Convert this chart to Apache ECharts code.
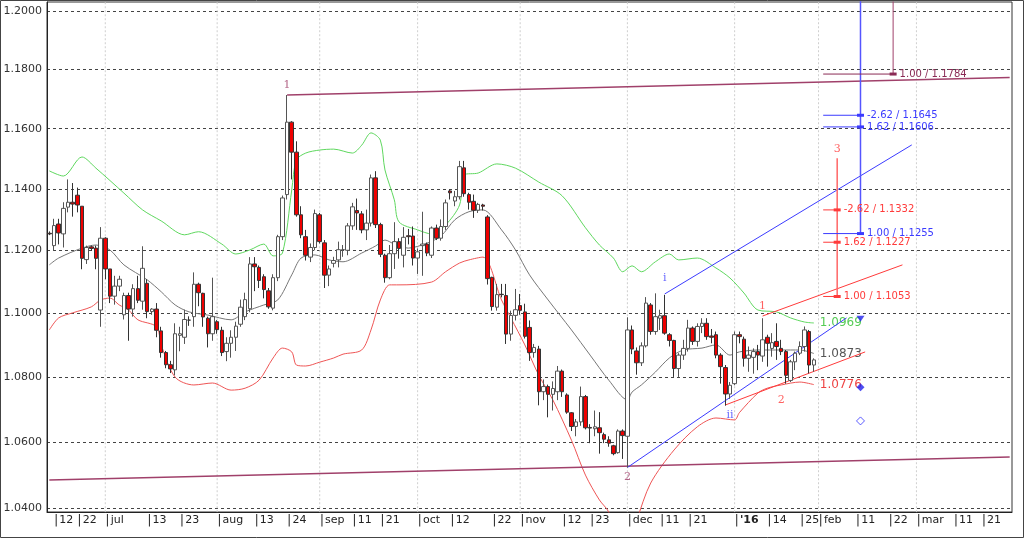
<!DOCTYPE html>
<html lang="en">
<head>
    <meta charset="UTF-8" />
    <title>EURUSD daily</title>
    <script src="https://cdn.jsdelivr.net/npm/echarts@6/dist/echarts.min.js"></script>
    <style>html,body{margin:0;padding:0;background:#fff}</style>
</head>
<body>
<div id="main" style="width:1024px;height:538px"></div>
<script>
// daily candles: open / close / high / low
var opens = [1.1256,1.1216,1.1286,1.1254,1.1341,1.1357,1.1380,1.1344,1.1171,1.1212,1.1208,1.1010,1.1240,1.1141,1.1054,1.1086,1.0995,1.1056,1.1013,1.1078,1.1038,1.1095,1.1005,1.1013,1.0944,1.0876,1.0838,1.0822,1.0930,1.0924,1.0978,1.0989,1.1092,1.1063,1.0984,1.0935,1.0973,1.0946,1.0879,1.0905,1.0924,1.0965,1.0989,
 1.1014,1.1157,1.1146,1.1116,1.1071,1.1016,1.1113,1.1245,1.1382,1.1622,1.1522,1.1316,1.1245,1.1179,1.1210,1.1316,1.1225,1.1121,1.1159,1.1170,1.1203,1.1201,1.1280,1.1330,1.1319,1.1267,1.1289,1.1437,1.1284,1.1185,1.1113,1.1190,1.1229,1.1185,1.1248,1.1247,1.1176,1.1216,1.1221,1.1185,1.1273,1.1240,1.1278,1.1394,1.1361,1.1375,1.1470,1.1382,1.1360,1.1331,1.1348,
 1.1309,1.1114,1.1019,1.1060,1.1056,1.0934,1.0993,1.1024,1.1004,1.0955,1.0876,1.0887,1.0754,1.0770,1.0746,1.0754,1.0818,1.0744,1.0689,1.0647,1.0661,1.0739,1.0644,1.0640,1.0643,1.0622,1.0606,1.0588,1.0567,1.0633,
 1.0617,1.0947,1.0881,1.0844,1.0897,1.1026,1.0942,1.0984,1.0992,1.0932,1.0914,1.0826,1.0868,1.0889,1.0953,1.0911,1.0958,1.0968,1.0928,1.0932,1.0868,1.0829,1.0747,1.0779,1.0932,1.0918,1.0858,1.0861,1.0879,1.0865,1.0924,1.0889,1.0911,1.0889,1.0879,1.0789,1.0847,1.0874,1.0895,1.0942,1.0837];
var closes = [1.1254,1.1281,1.1257,1.1337,1.1357,1.1351,1.1348,1.1175,1.1210,1.1207,1.1175,1.1240,1.1141,1.1054,1.1086,1.1108,1.1056,1.1013,1.1078,1.1041,1.1143,1.1005,1.1013,1.0946,1.0876,1.0838,1.0825,1.0935,1.0935,1.0980,1.0978,1.1092,1.1065,1.0988,1.0935,1.0989,1.0948,1.0876,1.0905,1.0924,1.0959,1.1019,1.1043,
 1.1157,1.1148,1.1104,1.1075,1.1020,1.1113,1.1245,1.1371,1.1622,1.1522,1.1316,1.1251,1.1185,1.1210,1.1320,1.1229,1.1121,1.1141,1.1168,1.1203,1.1203,1.1280,1.1342,1.1322,1.1267,1.1289,1.1437,1.1284,1.1188,1.1113,1.1190,1.1229,1.1207,1.1243,1.1245,1.1176,1.1196,1.1221,1.1192,1.1273,1.1240,1.1278,1.1355,1.1388,1.1375,1.1474,1.1385,1.1357,1.1331,1.1350,1.1344,
 1.1110,1.1021,1.1059,1.1059,1.0934,1.0993,1.1011,1.1009,1.0927,1.0876,1.0892,1.0754,1.0770,1.0746,1.0764,1.0818,1.0754,1.0691,1.0647,1.0661,1.0739,1.0643,1.0642,1.0646,1.0628,1.0608,1.0596,1.0564,1.0633,1.0619,
 1.0947,1.0887,1.0844,1.0897,1.1032,1.0942,1.0989,1.0992,1.0937,1.0914,1.0826,1.0868,1.0889,1.0953,1.0911,1.0958,1.0968,1.0926,1.0924,1.0868,1.0832,1.0747,1.0774,1.0932,1.0926,1.0858,1.0868,1.0879,1.0868,1.0916,1.0905,1.0907,1.0895,1.0879,1.0805,1.0847,1.0874,1.0895,1.0947,1.0837,1.0853];
var highs = [1.1262,1.1303,1.1303,1.1357,1.1432,1.1420,1.1405,1.1344,1.1216,1.1216,1.1216,1.1276,1.1243,1.1141,1.1119,1.1119,1.1065,1.1065,1.1092,1.1119,1.1214,1.1108,1.1016,1.1032,1.0957,1.0881,1.0850,1.0968,1.0957,1.1011,1.0990,1.1130,1.1097,1.1065,1.0989,1.1113,1.0978,1.0957,1.0924,1.0946,1.0973,1.1043,1.1065,
 1.1179,1.1179,1.1152,1.1124,1.1080,1.1124,1.1251,1.1379,1.1713,1.1625,1.1558,1.1344,1.1267,1.1223,1.1333,1.1322,1.1234,1.1152,1.1180,1.1229,1.1218,1.1289,1.1355,1.1369,1.1328,1.1333,1.1448,1.1459,1.1290,1.1190,1.1218,1.1292,1.1240,1.1276,1.1270,1.1278,1.1207,1.1326,1.1226,1.1278,1.1284,1.1301,1.1366,1.1399,1.1394,1.1493,1.1493,1.1388,1.1382,1.1355,1.1352,
 1.1315,1.1116,1.1093,1.1093,1.1093,1.1008,1.1077,1.1061,1.1030,1.0977,1.0903,1.0897,1.0792,1.0776,1.0786,1.0834,1.0823,1.0749,1.0691,1.0670,1.0770,1.0744,1.0654,1.0696,1.0691,1.0628,1.0617,1.0591,1.0638,1.0638,
 1.0987,1.0961,1.0892,1.0908,1.1051,1.1032,1.1063,1.1011,1.1058,1.0937,1.0916,1.0874,1.0916,1.0979,1.0958,1.0968,1.0984,1.0984,1.0950,1.0942,1.0874,1.0837,1.0784,1.0942,1.0942,1.0926,1.0895,1.0889,1.0900,1.0984,1.0932,1.0937,1.0968,1.0916,1.0884,1.0853,1.0879,1.0911,1.0958,1.0947,1.0858];
var lows = [1.1250,1.1200,1.1220,1.1210,1.1324,1.1310,1.1324,1.1140,1.1157,1.1200,1.1140,1.0957,1.1108,1.1032,1.1027,1.1070,1.0980,1.0913,1.0989,1.1032,1.1011,1.0984,1.0995,1.0924,1.0860,1.0827,1.0812,1.0805,1.0880,1.0903,1.0960,1.0957,1.1022,1.0957,1.0892,1.0913,1.0935,1.0865,1.0849,1.0860,1.0881,1.0957,1.0978,
 1.1003,1.1070,1.1080,1.1047,1.1014,1.1009,1.1102,1.1234,1.1366,1.1432,1.1310,1.1240,1.1168,1.1163,1.1201,1.1223,1.1080,1.1086,1.1146,1.1146,1.1180,1.1185,1.1267,1.1267,1.1256,1.1234,1.1278,1.1273,1.1179,1.1097,1.1108,1.1141,1.1174,1.1146,1.1220,1.1152,1.1125,1.1119,1.1182,1.1176,1.1234,1.1232,1.1267,1.1366,1.1344,1.1366,1.1375,1.1333,1.1306,1.1322,1.1330,
 1.1091,1.1008,1.1008,1.1050,1.0903,1.0913,1.0977,1.0995,1.0920,1.0850,1.0860,1.0712,1.0728,1.0675,1.0696,1.0728,1.0738,1.0686,1.0633,1.0617,1.0649,1.0638,1.0596,1.0617,1.0564,1.0596,1.0585,1.0559,1.0564,1.0548,
 1.0522,1.0871,1.0807,1.0834,1.0892,1.0932,1.0932,1.0947,1.0932,1.0895,1.0800,1.0800,1.0853,1.0879,1.0900,1.0895,1.0937,1.0916,1.0905,1.0858,1.0779,1.0711,1.0732,1.0774,1.0905,1.0832,1.0816,1.0810,1.0821,1.0847,1.0832,1.0863,1.0853,1.0868,1.0779,1.0784,1.0821,1.0868,1.0879,1.0811,1.0816];

// bollinger bands: [bar index, value]
var upperBand = [[0,1.1460],[3,1.1443],[7,1.1506],[10,1.1469],[16,1.1387],[20,1.1332],[24,1.1296],[29,1.1251],[32,1.1261],[37,1.1221],[40,1.1189],[43,1.1202],[46,1.1221],[48,1.1183],[50,1.1192],[52,1.1397],[53,1.1496],[55,1.1519],[58,1.1529],[61,1.1532],[65,1.1519],[67,1.1545],[69,1.1586],[71,1.1562],[72,1.1463],[74,1.1365],[75,1.1293],[79,1.1267],[82,1.1254],[85,1.1283],[88,1.1348],[89,1.1447],[92,1.1453],[96,1.1483],[100,1.1469],[105,1.1423],[110,1.1378],[115,1.1274],[118,1.1218],[121,1.1176],[123,1.1132],[125,1.1151],[127,1.1132],[130,1.1164],[133,1.1189],[135,1.1170],[139,1.1176],[143,1.1144],[146,1.1112],[149,1.1064],[152,1.1010],[156,1.1004],[159,1.0985],[162,1.0972],[164,1.0969]];
var midBand = [[0,1.1154],[2,1.1176],[7,1.1208],[10,1.1218],[13,1.1202],[16,1.1154],[21,1.1106],[24,1.1068],[27,1.1026],[30,1.1004],[34,1.0994],[39,1.0979],[42,1.1004],[46,1.1026],[49,1.1042],[52,1.1122],[54,1.1176],[57,1.1186],[60,1.1170],[63,1.1164],[67,1.1192],[70,1.1215],[72,1.1234],[74,1.1221],[77,1.1208],[81,1.1224],[84,1.1247],[87,1.1300],[90,1.1326],[93,1.1332],[97,1.1267],[100,1.1202],[103,1.1122],[107,1.1042],[112,1.0947],[116,1.0868],[120,1.0790],[124,1.0729],[125,1.0753],[127,1.0775],[130,1.0815],[133,1.0859],[136,1.0884],[140,1.0890],[143,1.0900],[146,1.0868],[148,1.0878],[152,1.0884],[157,1.0884],[161,1.0884],[164,1.0873]];
var lowerBand = [[0,1.0947],[2,1.0985],[5,1.1001],[9,1.1020],[11,1.1042],[13,1.1048],[15,1.1026],[17,1.1010],[19,1.0979],[23,1.0957],[24,1.0900],[27,1.0799],[31,1.0775],[35,1.0781],[39,1.0759],[42,1.0765],[45,1.0790],[48,1.0859],[50,1.0890],[52,1.0878],[53,1.0837],[55,1.0834],[58,1.0846],[61,1.0859],[63,1.0871],[67,1.0884],[69,1.0947],[71,1.1042],[73,1.1090],[75,1.1090],[82,1.1099],[85,1.1132],[88,1.1160],[90,1.1170],[93,1.1179],[97,1.1042],[99,1.0985],[102,1.0900],[105,1.0805],[108,1.0729],[112,1.0605],[115,1.0499],[118,1.0424],[120,1.0388],[121,1.0334],[123,1.0250],[126,1.0364],[129,1.0475],[134,1.0575],[139,1.0646],[143,1.0673],[147,1.0667],[148,1.0689],[152,1.0750],[154,1.0765],[157,1.0775],[161,1.0784],[164,1.0776]];

// drawn channel lines
var purpleTop = [[51,1.1713],[206,1.1772]];
var purpleBottom = [[0,1.0484],[206,1.0554]];
var blueLower = [[124,1.0522],[171,1.0985]];
var blueUpper = [[132,1.1061],[185,1.1546]];
var redUpper = [[153,1.0991],[183,1.1154]];
var redLower = [[145,1.0713],[175,1.0878]];

// fibonacci projections
var fibMaroonRatio = ['1.00'], fibMaroonPrice = [1.1784];
var fibBlueRatio = ['-2.62','1.62','1.00'], fibBluePrice = [1.1645,1.1606,1.1255];
var fibRedRatio = ['-2.62','1.62','1.00'], fibRedPrice = [1.1332,1.1227,1.1053];
var fibStart = 166, fibMaroonX = 181, fibBlueX = 174, fibRedX = 169, fibRedTop = 1.1502;

// wave counts: [index, price, text]
var maroonWaves = [[51,1.1713,'1'],[124,1.0522,'2']];
var blueWaves = [[132,1.1081,'i'],[146,1.0711,'ii']];
var redWaves = [[153,1.0991,'1'],[157,1.0756,'2'],[169,1.1502,'3']];

// x axis labels: [bar index, text]
var xLabels = [[1,'12'],[6,'22'],[12,'jul'],[21,'13'],[28,'23'],[36,'aug'],[44,'13'],[51,'24'],[58,'sep'],[65,'11'],[71,'21'],[79,'oct'],[86,'12'],[95,'22'],[101,'nov'],[110,'12'],[116,'23'],[124,'dec'],[131,'11'],[137,'21'],[147,"'16"],[154,'14'],[161,'25'],[165,'feb'],[173,'11'],[180,'22'],[186,'mar'],[194,'11'],[200,'21']];
var monthIdx = [12,36,58,79,101,124,147,165,186];
var yTicks = [1.04,1.06,1.08,1.10,1.12,1.14,1.16,1.18,1.20];

var nBars = 207;
var cats = [];
for (var i = 0; i < nBars; i++) cats.push(String(i));
var labelMap = {};
xLabels.forEach(function (l) { labelMap[l[0]] = l[1]; });

var ohlc = opens.map(function (o, i) { return [o, closes[i], lows[i], highs[i]]; });

var MAROON = '#a0406a', BLUE = '#3b3bff', RED = '#ff3a3a';

function seg(data, color, w, z) {
    return { type: 'line', data: data, symbol: 'none', z: z || 3, silent: true,
        lineStyle: { color: color, width: w || 1 } };
}
function fibSeries(ratios, prices, xEnd, color) {
    var out = [];
    prices.forEach(function (p, k) {
        out.push({ type: 'line', z: 4, silent: true, symbol: 'none',
            data: [[fibStart, p], { value: [xEnd, p], symbol: 'rect', symbolSize: [7, 3],
                label: { show: true, position: 'right', distance: 3, formatter: ratios[k] + ' / ' + p.toFixed(4),
                    color: color, fontSize: 10, fontFamily: 'DejaVu Sans' } }],
            showAllSymbol: true,
            itemStyle: { color: color },
            lineStyle: { color: color, width: 1 } });
    });
    return out;
}
function waveSeries(list, color) {
    return { type: 'scatter', symbolSize: 0, z: 6, silent: true,
        data: list.map(function (w) { return { value: [w[0], w[1]], name: w[2],
            label: { position: (w[2] === '2' || w[2] === 'ii') ? 'bottom' : 'top' } }; }),
        label: { show: true, formatter: '{b}', color: color, fontSize: 11, fontFamily: 'DejaVu Serif', distance: 4 } };
}

var series = [];
monthIdx.forEach(function (m) {
    series.push({ type: 'line', symbol: 'none', silent: true, z: 1,
        data: [[m - 0.5, 1.0], [m - 0.5, 1.3]],
        lineStyle: { color: '#cfcfcf', type: [2, 2], width: 1 } });
});
series = series.concat([
    seg(purpleTop, MAROON, 1.5), seg(purpleBottom, MAROON, 1.5),
    seg(blueLower, BLUE), seg(blueUpper, BLUE),
    seg(redUpper, RED), seg(redLower, RED),
    seg([[fibMaroonX, fibMaroonPrice[0]], [fibMaroonX, 1.25]], MAROON, 1),
    seg([[fibBlueX, fibBluePrice[2]], [fibBlueX, 1.25]], '#5555ff', 1.5),
    seg([[fibRedX, fibRedPrice[2]], [fibRedX, fibRedTop]], '#ff6666', 1.5),
    { type: 'line', data: upperBand, symbol: 'none', smooth: 0.3, z: 2, silent: true,
      lineStyle: { color: '#5fd85f', width: 1 },
      endLabel: { show: true, formatter: function (p) { return p.value[1].toFixed(4); }, color: '#55cc55', fontSize: 12, fontFamily: 'DejaVu Sans', distance: 6 } },
    { type: 'line', data: midBand, symbol: 'none', smooth: 0.3, z: 2, silent: true,
      lineStyle: { color: '#777', width: 1 },
      endLabel: { show: true, formatter: function (p) { return p.value[1].toFixed(4); }, color: '#555', fontSize: 12, fontFamily: 'DejaVu Sans', distance: 6 } },
    { type: 'line', data: lowerBand, symbol: 'none', smooth: 0.3, z: 2, silent: true,
      lineStyle: { color: '#ee5555', width: 1 },
      endLabel: { show: true, formatter: function (p) { return p.value[1].toFixed(4); }, color: '#ee4444', fontSize: 12, fontFamily: 'DejaVu Sans', distance: 6 } },
    { type: 'candlestick', data: ohlc, barWidth: 4, z: 5,
      itemStyle: { color: '#ffffff', color0: '#ee0000', borderColor: '#555', borderColor0: '#333', borderWidth: 1 } },
    { type: 'scatter', z: 6, silent: true, symbol: 'diamond', symbolSize: 8,
      data: [{ value: [174, 1.0768], itemStyle: { color: '#2222ee' } },
             { value: [174, 1.0664], itemStyle: { color: '#fff', borderColor: '#3333ff', borderWidth: 1 } },
             { value: [174, 1.0982], symbol: 'triangle', symbolRotate: 180, symbolSize: [8, 6], itemStyle: { color: '#2222ee' } }] },
    waveSeries(maroonWaves, MAROON), waveSeries(blueWaves, BLUE), waveSeries(redWaves, RED)
]);
series = series.concat(fibSeries(fibMaroonRatio, fibMaroonPrice, fibMaroonX, '#8a2a55'));
series = series.concat(fibSeries(fibBlueRatio, fibBluePrice, fibBlueX, BLUE));
series = series.concat(fibSeries(fibRedRatio, fibRedPrice, fibRedX, RED));

var chart = echarts.init(document.getElementById('main'));
chart.setOption({
    animation: false,
    backgroundColor: '#fff',
    graphic: [{ type: 'rect', shape: { x: 0.5, y: 0.5, width: 1023, height: 537 }, style: { fill: 'none', stroke: '#444', lineWidth: 1 } }],
    grid: { left: 47, right: 12, top: 2, bottom: 26, show: true, borderColor: '#333', borderWidth: 1 },
    xAxis: {
        type: 'category', data: cats, boundaryGap: true,
        axisLine: { lineStyle: { color: '#222' } },
        axisTick: { show: false },
        axisLabel: { interval: function (i) { return labelMap[i] !== undefined; },
            formatter: function (v, i) {
                var t = labelMap[i] || '';
                return '{bar||}' + (t === "'16" ? '{b|' + t + '}' : '{t|' + t + '}');
            },
            rich: { bar: { color: '#333', fontSize: 13, padding: [0, 1, 0, 0] },
                    t: { color: '#222', fontSize: 11, fontFamily: 'DejaVu Sans' },
                    b: { color: '#222', fontSize: 11, fontFamily: 'DejaVu Sans', fontWeight: 'bold' } },
            align: 'left', margin: 2, color: '#222', fontSize: 11, fontFamily: 'DejaVu Sans' },
        splitLine: { show: false }
    },
    yAxis: {
        type: 'log', logBase: 10, min: 1.0388, max: 1.2031,
        axisLine: { show: true, lineStyle: { color: '#222' } },
        axisTick: { show: false, customValues: yTicks },
        axisLabel: { customValues: yTicks, formatter: function (v) { return v.toFixed(4); },
            color: '#333', fontSize: 11, fontFamily: 'DejaVu Sans', margin: 5 },
        splitLine: { show: true, lineStyle: { color: '#444', type: [3, 3] } }
    },
    series: series
});
</script>
</body>
</html>
